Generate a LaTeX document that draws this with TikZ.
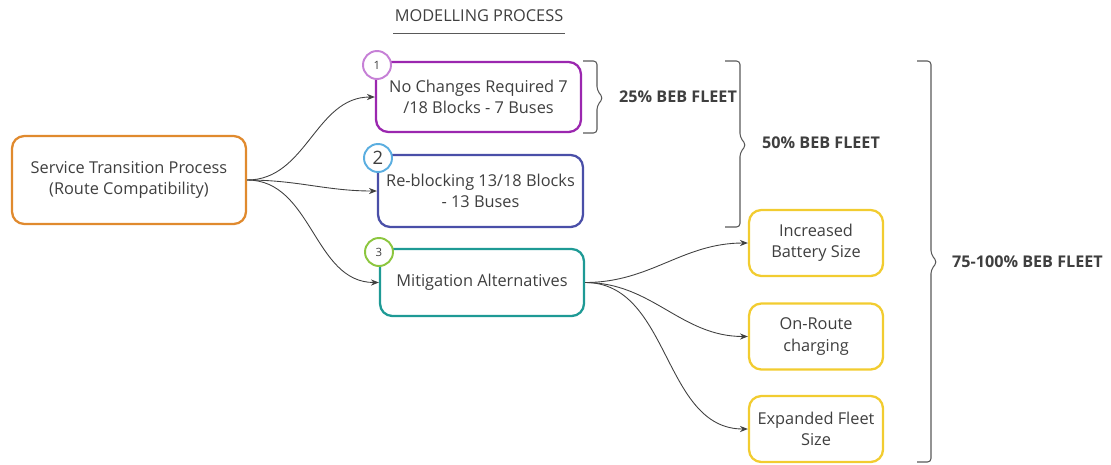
\documentclass[tikz,border=0pt]{standalone}
\usepackage{fontspec}
\setmainfont{Open Sans}
\usetikzlibrary{arrows.meta}

\definecolor{txtgray}{HTML}{3F3F3F}
\definecolor{orangeline}{HTML}{E08A2E}
\definecolor{purpleline}{HTML}{9B27AF}
\definecolor{purplering}{HTML}{C680D6}
\definecolor{blueline}{HTML}{4A4FA8}
\definecolor{bluering}{HTML}{5BAEE0}
\definecolor{tealline}{HTML}{1E9A95}
\definecolor{greenring}{HTML}{8CC63F}
\definecolor{yellowline}{HTML}{F2CC30}

\begin{document}
\begin{tikzpicture}[
            x=0.02cm, y=-0.02cm,
            every node/.style={text=txtgray, font=\fontsize{9.3}{12.2}\selectfont},
            box/.style={draw, rounded corners=7pt, line width=1.3pt, align=center, inner sep=0pt},
            option/.style={box, draw=yellowline, minimum width=2.68cm, minimum height=1.32cm},
            ring/.style={draw, circle, fill=white, line width=1.1pt, minimum size=0.56cm, inner sep=0pt},
            link/.style={-{Stealth[length=4.5pt,width=3.5pt]}, draw=black!75, line width=0.5pt},
            brace/.style={draw=black!65, line width=0.6pt, rounded corners=2pt},
            fleet/.style={anchor=west, font=\fontsize{9.2}{12}\selectfont\bfseries},
            ]
            \useasboundingbox (0,0) rectangle (1111,464);

            % title
            \node (title) at (479,16) {MODELLING PROCESS};
            \draw[black!65, line width=0.5pt] (393,33) -- (565,33);

            % main boxes
            \node[box, draw=orangeline, minimum width=4.68cm, minimum height=1.76cm] (service) at (129,180)
                {Service Transition Process\\(Route Compatibility)};
            \node[box, draw=purpleline, minimum width=4.1cm, minimum height=1.4cm] (nochange) at (478.5,97)
                {No Changes Required 7\\/18 Blocks - 7 Buses};
            \node[box, draw=blueline, minimum width=4.1cm, minimum height=1.44cm] (reblock) at (480.5,191)
                {Re-blocking 13/18 Blocks\\- 13 Buses};
            \node[box, draw=tealline, minimum width=4.08cm, minimum height=1.34cm] (mitig) at (482,282.5)
                {Mitigation Alternatives};

            % numbers
            \node[ring, draw=purplering, font=\fontsize{6.5}{8}\selectfont] (one) at (377,65) {1};
            \node[ring, draw=bluering, font=\fontsize{10.5}{12}\selectfont] (two) at (378,158) {2};
            \node[ring, draw=greenring, font=\fontsize{6.5}{8}\selectfont] (three) at (379,252) {3};

            % alternatives
            \node[option] (battery) at (816,243) {Increased\\Battery Size};
            \node[option] (onroute) at (816,336.5) {On-Route\\charging};
            \node[option] (fleetsize) at (816,429) {Expanded Fleet\\Size};

            % connectors
            \draw[link] (service.east) to[out=0, in=180] (nochange.west);
            \draw[link] (service.east) to[out=0, in=180] (reblock.west);
            \draw[link] (service.east) to[out=0, in=180] (mitig.west);
            \draw[link] (mitig.east) to[out=0, in=180] (battery.west);
            \draw[link] (mitig.east) to[out=0, in=180] (onroute.west);
            \draw[link] (mitig.east) to[out=0, in=180] (fleetsize.west);

            % brackets
            \draw[brace] (583,61) -- (597,61) -- (597,90) -- (603,98) -- (597,106) -- (597,133) -- (583,133);
            \draw[brace] (725,61) -- (740,61) -- (740,137) -- (746,145) -- (740,153) -- (740,227) -- (725,227);
            \draw[brace] (917,61) -- (931,61) -- (931,254) -- (937,262) -- (931,270) -- (931,462) -- (917,462);
            \node[fleet] (f25) at (613,97) {25\% BEB FLEET};
            \node[fleet] (f50) at (756,143) {50\% BEB FLEET};
            \node[fleet] (f75) at (946,262) {75-100\% BEB FLEET};
        \end{tikzpicture}
\end{document}
